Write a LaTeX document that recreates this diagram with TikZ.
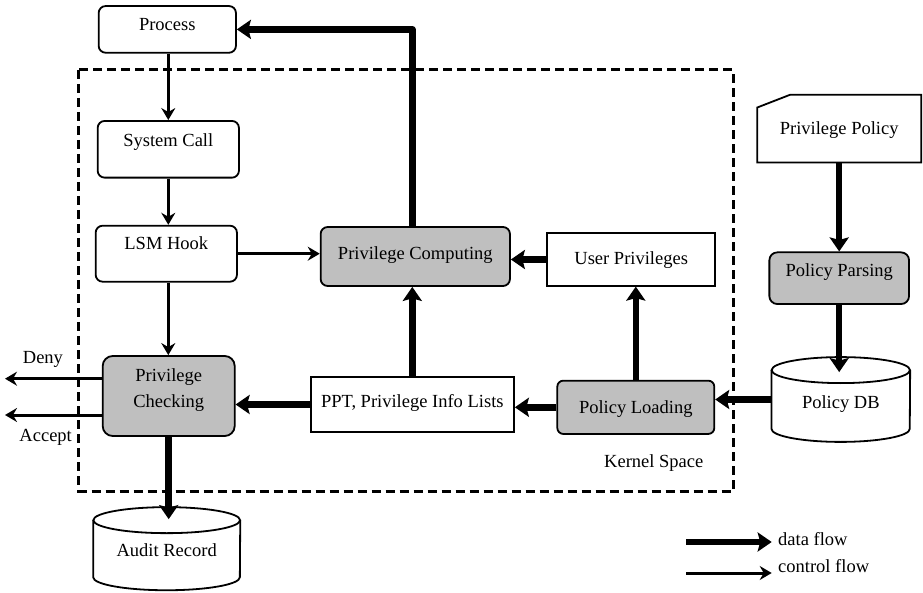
\documentclass[tikz,border=0pt]{standalone}
\usepackage{fontspec}
\setmainfont{Liberation Serif}
\usetikzlibrary{arrows.meta,calc}

\tikzset{
  base/.style={inner xsep=0pt, inner ysep=0pt, font=\fontsize{18.5}{22}\selectfont},
  boxframe/.style={base, draw, line width=1.8pt},
  roundbox/.style={boxframe, rounded corners=7pt},
  grey/.style={fill=gray!50},
  plain/.style={base},
  datafl/.style={line width=6.5pt, -{Stealth[length=14pt,width=19pt,inset=2.5pt]}},
  ctlfl/.style={line width=3pt, -{Stealth[length=12pt,width=14pt,inset=4pt]}},
  txt/.style={base, anchor=base west},
  frame/.style={line width=3pt, dash pattern=on 9pt off 5pt},
}

\begin{document}
\begin{tikzpicture}[x=1pt, y=-1pt]
\useasboundingbox (0,0) rectangle (923,593);

% kernel space frame
\draw[frame] (78.7,70) rectangle (733.3,491);
\node[txt] (kernel) at (604,467.7) {Kernel Space};

% user-side boxes
\node[roundbox, minimum width=137.3pt, text height=24.5pt, text depth=22.2pt] (proc) at (167.3,29.4) {Process};
\node[roundbox, minimum width=141.3pt, text height=25.5pt, text depth=31.2pt] (sys) at (168.3,149.3) {System Call};
\node[roundbox, minimum width=141.3pt, text height=24.3pt, text depth=31.7pt] (lsm) at (166.3,253.7) {LSM Hook};

% privilege boxes
\node[roundbox, grey, minimum width=189.3pt, text height=32.3pt, text depth=26.7pt] (pcomp) at (415.3,256.5) {Privilege Computing};
\node[boxframe, minimum width=167.7pt, text height=31pt, text depth=21.4pt] (upriv) at (631.2,259.5) {User Privileges};
\node[boxframe, minimum width=203.3pt, text height=31pt, text depth=24.6pt] (ppt) at (412.3,404.5) {PPT, Privilege Info Lists};
\node[roundbox, grey, rounded corners=6pt, minimum width=157pt, text height=32.6pt, text depth=20.7pt] (pload) at (635.8,407.3) {Policy Loading};
\node[roundbox, grey, rounded corners=10pt, minimum width=132pt, align=center,
      font=\fontsize{18.5}{26.7}\selectfont, text height=51.7pt, text depth=28.3pt] (pcheck) at (168.7,396) {Privilege\\Checking};

% policy side
\node[plain, minimum width=163.7pt, text height=39.3pt, text depth=28pt] (ppol) at (839.2,128.7) {Privilege Policy};
\draw[line width=1.8pt, line join=miter]
  ($(ppol.north west)+(0,12.7)$) -- ($(ppol.north west)+(32.7,0)$) -- (ppol.north east)
  -- (ppol.south east) -- (ppol.south west) -- cycle;
\node[roundbox, grey, rounded corners=8pt, minimum width=139.7pt, text height=24.4pt, text depth=27.3pt] (ppars) at (839.2,278.2) {Policy Parsing};

% databases (cylinders)
\node[plain, minimum width=138.3pt, text height=51pt, text depth=33.4pt] (pdb) at (840.8,399.5) {Policy DB};
\node[plain, minimum width=146.7pt, text height=49.4pt, text depth=33.3pt] (audit) at (166.7,548.7) {Audit Record};
\foreach \db/\rx in {pdb/69.15, audit/73.35}{
  \draw[line width=1.8pt] ($(\db.north)+(0,13)$) ellipse [x radius=\rx pt, y radius=13pt];
  \draw[line width=1.8pt] ($(\db.north west)+(0,13)$) -- ($(\db.south west)+(0,-13)$)
    arc[start angle=180, end angle=360, x radius=\rx pt, y radius=13pt]
    -- ($(\db.north east)+(0,13)$);
}

% control flow
\draw[ctlfl] (proc.south -| sys.north) -- (sys.north);
\draw[ctlfl] (sys.south) -- (sys.south |- lsm.north);
\draw[ctlfl] (lsm.south -| sys.south) -- (sys.south |- pcheck.north);
\draw[ctlfl] (lsm.east) -- (lsm.east -| pcomp.west);

\coordinate (denyEnd) at (5,378.7);
\coordinate (acceptEnd) at (5,415);
\draw[ctlfl] (pcheck.west |- denyEnd) -- (denyEnd);
\draw[ctlfl] (pcheck.west |- acceptEnd) -- (acceptEnd);
\node[txt] (deny) at (22.7,363) {Deny};
\node[txt] (accept) at (19.3,441.7) {Accept};

% data flow
\draw[datafl, line join=round] (pcomp.north -| ppt.north) -- (ppt.north |- proc.east) -- (proc.east);
\draw[datafl] (upriv.west) -- (upriv.west -| pcomp.east);
\draw[datafl] (pload.north) -- (pload.north |- upriv.south);
\draw[datafl] (ppt.north) -- (ppt.north |- pcomp.south);
\draw[datafl] (ppt.west) -- (ppt.west -| pcheck.east);
\draw[datafl] (pload.west) -- (pload.west -| ppt.east);
\draw[datafl] (pdb.west) -- (pdb.west -| pload.east);
\draw[datafl] (ppol.south) -- (ppol.south |- ppars.north);
\draw[datafl] (ppars.south) -- ($(ppars.south |- pdb.north)+(0,15)$);
\draw[datafl] (pcheck.south) -- ($(pcheck.south |- audit.north)+(0,12)$);

% legend
\coordinate (dfA) at (686,542);
\coordinate (dfB) at (771.7,542);
\coordinate (cfA) at (686,573);
\coordinate (cfB) at (771.7,573);
\draw[datafl] (dfA) -- (dfB);
\draw[ctlfl] (cfA) -- (cfB);
\node[txt] (dflabel) at (778,545) {data flow};
\node[txt] (cflabel) at (778,572.7) {control flow};
\end{tikzpicture}
\end{document}
